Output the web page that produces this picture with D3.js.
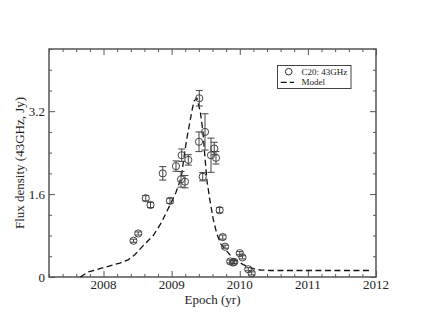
<!DOCTYPE html>
<html><head><meta charset="utf-8">
<script src="https://cdn.jsdelivr.net/npm/d3@7"></script>
<style>body{margin:0;background:#fff}svg{display:block}text{font-family:"Liberation Serif","Times New Roman",serif;fill:#222}</style>
</head><body>
<script>
// Observed data: epoch (yr), flux (Jy), error (Jy)
const epochs = [2008.44,2008.51,2008.62,2008.69,2008.87,2008.976,2009.064,2009.138,2009.148,2009.196,2009.245,2009.402,2009.406,2009.456,2009.49,2009.578,2009.626,2009.651,2009.705,2009.75,2009.784,2009.86,2009.9,2009.92,2010.0,2010.04,2010.125,2010.175];
const flux =   [0.70,0.84,1.52,1.39,2.0,1.47,2.14,1.885,2.35,1.84,2.26,2.61,3.45,1.935,2.80,2.35,2.48,2.30,1.29,0.77,0.585,0.30,0.28,0.29,0.46,0.38,0.15,0.07];
const errs =   [0.03,0.03,0.05,0.05,0.13,0.05,0.10,0.15,0.12,0.12,0.10,0.19,0.15,0.08,0.35,0.33,0.12,0.12,0.05,0.04,0.03,0.03,0.03,0.03,0.03,0.03,0.03,0.03];
// Model curve
const modelEpoch = [2007.66,2007.78,2008.0,2008.24,2008.36,2008.46,2008.6,2008.73,2008.85,2008.98,2009.06,2009.12,2009.15,2009.18,2009.22,2009.3,2009.33,2009.37,2009.42,2009.46,2009.49,2009.52,2009.56,2009.61,2009.66,2009.72,2009.81,2009.9,2010.05,2010.2,2010.3,2010.45,2011.92];
const modelFlux  = [0.0,0.1,0.18,0.27,0.33,0.43,0.63,0.8,1.05,1.4,1.62,1.84,2.0,2.3,2.65,3.22,3.40,3.45,3.2,2.8,2.3,1.85,1.5,1.12,0.85,0.64,0.5,0.36,0.24,0.16,0.135,0.125,0.125];
const xTicks = [2008,2009,2010,2011,2012];
const yTicks = [0,1.6,3.2];

const W=423,H=327, L=49,R=376,T=49,B=277;
const svg=d3.select("body").append("svg").attr("width",W).attr("height",H);
const x=d3.scaleLinear().domain([2007.2,2012]).range([L,R]);
const y=d3.scaleLinear().domain([0,4.4]).range([B,T]);
const frame="#555";

const minorX=d3.range(2007.2,2012.001,0.2).filter(v=>!xTicks.some(t=>Math.abs(t-v)<1e-6));
const minorY=d3.range(0,4.4001,0.4).filter(v=>!yTicks.some(t=>Math.abs(t-v)<1e-6));

function ticksAxis(axisFn, scale, major, minor, pos){
  const gMaj=svg.append("g").attr("transform",pos).call(axisFn(scale).tickValues(major).tickSize(-6).tickFormat(""));
  const gMin=svg.append("g").attr("transform",pos).call(axisFn(scale).tickValues(minor).tickSize(-3).tickFormat(""));
  [gMaj,gMin].forEach(g=>{g.select(".domain").remove();g.selectAll("line").attr("stroke",frame).attr("stroke-width",1);});
}
ticksAxis(d3.axisBottom,x,xTicks,minorX,`translate(0,${B})`);
ticksAxis(d3.axisTop,x,xTicks,minorX,`translate(0,${T})`);
ticksAxis(d3.axisLeft,y,yTicks,minorY,`translate(${L},0)`);
ticksAxis(d3.axisRight,y,yTicks,minorY,`translate(${R},0)`);

svg.append("rect").attr("x",L).attr("y",T).attr("width",R-L).attr("height",B-T)
  .attr("fill","none").attr("stroke",frame).attr("stroke-width",1.5);

// tick labels
svg.append("g").selectAll("text").data(xTicks).join("text")
  .attr("x",d=>x(d)).attr("y",289).attr("text-anchor","middle").attr("font-size",13).text(d=>d);
svg.append("g").selectAll("text").data(yTicks).join("text")
  .attr("x",45).attr("y",d=>y(d)).attr("dy","0.35em").attr("text-anchor","end").attr("font-size",13).text(d=>d===0?"0":d.toFixed(1));

svg.append("text").attr("x",(L+R)/2).attr("y",304).attr("text-anchor","middle").attr("font-size",13).text("Epoch (yr)");
svg.append("text").attr("transform","translate(24,163) rotate(-90)").attr("text-anchor","middle").attr("font-size",13).text("Flux density (43GHz, Jy)");

// model
const model=modelEpoch.map((e,i)=>[e,modelFlux[i]]);
svg.append("path").datum(model).attr("fill","none").attr("stroke","#111").attr("stroke-width",1.3)
  .attr("stroke-dasharray","6,3.5").attr("d",d3.line().x(d=>x(d[0])).y(d=>y(d[1])));

// data with error bars
const pts=epochs.map((e,i)=>({e,f:flux[i],s:errs[i]}));
const g=svg.append("g").attr("stroke","#444").attr("fill","none").attr("stroke-width",1);
const eb=g.selectAll("g.eb").data(pts).join("g");
eb.append("line").attr("x1",d=>x(d.e)).attr("x2",d=>x(d.e)).attr("y1",d=>y(d.f-d.s)).attr("y2",d=>y(d.f+d.s));
eb.append("line").attr("x1",d=>x(d.e)-3.5).attr("x2",d=>x(d.e)+3.5).attr("y1",d=>y(d.f-d.s)).attr("y2",d=>y(d.f-d.s));
eb.append("line").attr("x1",d=>x(d.e)-3.5).attr("x2",d=>x(d.e)+3.5).attr("y1",d=>y(d.f+d.s)).attr("y2",d=>y(d.f+d.s));
eb.append("circle").attr("cx",d=>x(d.e)).attr("cy",d=>y(d.f)).attr("r",3.6);

// legend
svg.append("rect").attr("x",277.5).attr("y",65.5).attr("width",73.5).attr("height",23).attr("fill","#fff").attr("stroke","#444").attr("stroke-width",1);
svg.append("circle").attr("cx",288.7).attr("cy",71.7).attr("r",3.3).attr("fill","none").attr("stroke","#333");
svg.append("line").attr("x1",280.7).attr("x2",294).attr("y1",82.3).attr("y2",82.3).attr("stroke","#111").attr("stroke-width",1.3).attr("stroke-dasharray","6,3");
svg.append("text").attr("x",301.5).attr("y",74.5).attr("font-size",9).text("C20: 43GHz");
svg.append("text").attr("x",301.5).attr("y",85).attr("font-size",9).text("Model");
</script>
</body></html>
